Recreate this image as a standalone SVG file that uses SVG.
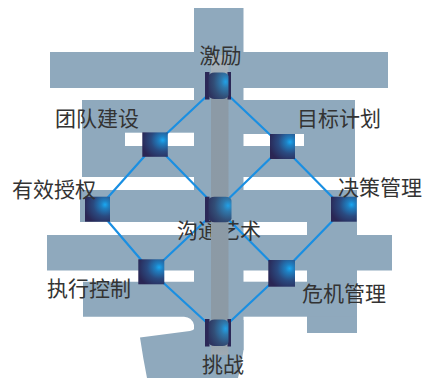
<svg xmlns="http://www.w3.org/2000/svg" width="422" height="378" viewBox="0 0 422 378">
  <style>
    .glyph { fill: #8fa9bd; }
    .cut { fill: #ffffff; }
    .link { stroke: #1a8fe2; stroke-width: 2.2; fill: none; stroke-linecap: round; }
    .label { font-family: "Noto Sans CJK SC", "Noto Sans", sans-serif; font-size: 21px; fill: #333333; }
    .box { fill: url(#nodeFill); }
    .side { fill: #2b2857; }
    .drum { fill: url(#drumFill); }
  </style>
  <defs>
    <radialGradient id="nodeFill" cx="0.8" cy="0.32" r="0.85" fx="0.8" fy="0.32">
      <stop offset="0" stop-color="#1aa8f2"/>
      <stop offset="0.18" stop-color="#1f80c2"/>
      <stop offset="0.55" stop-color="#2a4a80"/>
      <stop offset="1" stop-color="#2a2654"/>
    </radialGradient>
    <radialGradient id="drumFill" cx="0.85" cy="0.35" r="0.9" fx="0.85" fy="0.35">
      <stop offset="0" stop-color="#22a0e6"/>
      <stop offset="0.25" stop-color="#2f79ad"/>
      <stop offset="0.65" stop-color="#324e77"/>
      <stop offset="1" stop-color="#2d3460"/>
    </radialGradient>
    <linearGradient id="barFill" x1="0" y1="0" x2="0" y2="1">
      <stop offset="0" stop-color="#aab5be"/>
      <stop offset="0.07" stop-color="#a2aeb8"/>
      <stop offset="0.15" stop-color="#8c9aa6"/>
      <stop offset="0.9" stop-color="#8c9aa5"/>
      <stop offset="1" stop-color="#a0abb4"/>
    </linearGradient>
  </defs>

  <!-- large background character -->
  <g id="backdrop">
    <rect class="glyph" x="194" y="8" width="49.5" height="342"/>
    <rect class="glyph" x="50" y="52" width="338" height="36"/>
    <rect class="glyph" x="82" y="100" width="273" height="77"/>
    <rect class="glyph" x="80" y="190" width="277" height="32"/>
    <rect class="glyph" x="307" y="190" width="50" height="143"/>
    <rect class="glyph" x="47" y="235" width="345" height="35.5"/>
    <path class="glyph" d="M83,281.7 H194 V325 Q192,317 184,316.7 H83 Z"/>
    <rect class="glyph" x="243" y="281.7" width="114" height="35"/>
    <path class="glyph" d="M196,326 Q195,331 186,331.5 L140,337.5 Q143,358 147,378 H238 Q241,366 243.5,350 V320 H196 Z"/>
    <rect class="cut" x="125" y="132.7" width="69" height="13.3"/>
    <rect class="cut" x="243.5" y="134" width="60.5" height="12"/>
  </g>

  <!-- connectors -->
  <g id="connectors">
    <line class="link" x1="218" y1="85.5" x2="155" y2="144.5"/>
    <line class="link" x1="218" y1="85.5" x2="282.5" y2="146.5"/>
    <line class="link" x1="155" y1="144.5" x2="97.5" y2="209"/>
    <line class="link" x1="155" y1="144.5" x2="218" y2="209"/>
    <line class="link" x1="282.5" y1="146.5" x2="218" y2="209"/>
    <line class="link" x1="282.5" y1="146.5" x2="344" y2="209"/>
    <line class="link" x1="97.5" y1="209" x2="151.3" y2="271.8"/>
    <line class="link" x1="218" y1="209" x2="151.3" y2="271.8"/>
    <line class="link" x1="218" y1="209" x2="281.7" y2="273.3"/>
    <line class="link" x1="344" y1="209" x2="281.7" y2="273.3"/>
    <line class="link" x1="151.3" y1="271.8" x2="218" y2="333"/>
    <line class="link" x1="281.7" y1="273.3" x2="218" y2="333"/>
  </g>

  <text class="label" x="177" y="238">沟通艺术</text>

  <!-- central spine -->
  <rect id="spine" x="211" y="55" width="17.5" height="300" fill="url(#barFill)"/>

  <g id="n-jili">
    <rect class="side" x="205" y="72" width="4.5" height="27.5"/>
    <rect class="side" x="227.5" y="72" width="3.5" height="27.5"/>
    <rect class="drum" x="208.5" y="72.5" width="20" height="26.5" rx="6" ry="4"/>
    <text class="label" x="199.5" y="63">激励</text>
  </g>
  <g id="n-tuandui">
    <rect class="box" x="142.3" y="132.3" width="25.5" height="24.5"/>
    <text class="label" x="55" y="126">团队建设</text>
  </g>
  <g id="n-mubiao">
    <rect class="box" x="270" y="134" width="25" height="25"/>
    <text class="label" x="297" y="126">目标计划</text>
  </g>
  <g id="n-shouquan">
    <rect class="box" x="85" y="196.7" width="25" height="25"/>
    <text class="label" x="12" y="197">有效授权</text>
  </g>
  <g id="n-goutong">
    <rect class="side" x="205" y="196.7" width="4.5" height="25.5"/>
    <rect class="drum" x="208.5" y="196.7" width="23" height="25.5" rx="6" ry="4"/>
  </g>
  <g id="n-juece">
    <rect class="box" x="331" y="196.7" width="25.7" height="25"/>
    <text class="label" x="338" y="195">决策管理</text>
  </g>
  <g id="n-zhixing">
    <rect class="box" x="138.3" y="259.3" width="26" height="25"/>
    <text class="label" x="47" y="296">执行控制</text>
  </g>
  <g id="n-weiji">
    <rect class="box" x="268.3" y="260" width="26.7" height="26.7"/>
    <text class="label" x="302" y="301">危机管理</text>
  </g>
  <g id="n-tiaozhan">
    <rect class="side" x="205" y="319" width="4.5" height="27.5"/>
    <rect class="side" x="227.5" y="319" width="3.5" height="27.5"/>
    <rect class="drum" x="208.5" y="319.5" width="20" height="26.5" rx="6" ry="4"/>
    <text class="label" x="202" y="372">挑战</text>
  </g>
</svg>
